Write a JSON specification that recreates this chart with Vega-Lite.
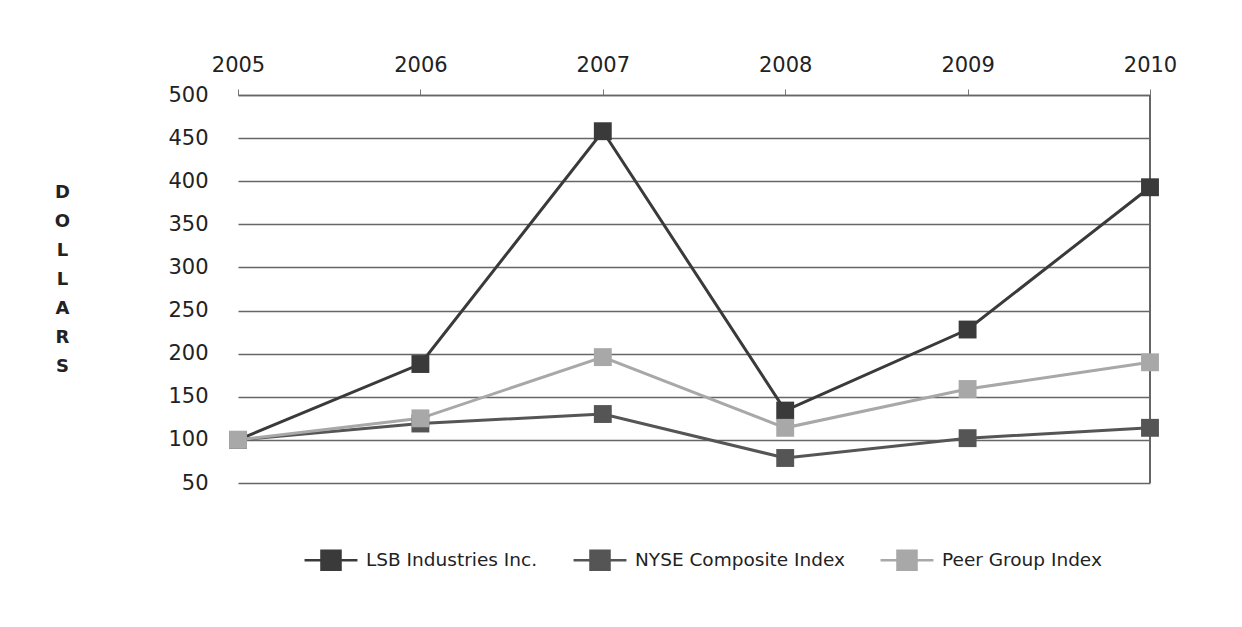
{
  "$schema": "https://vega.github.io/schema/vega-lite/v6.json",
  "width": 912,
  "height": 388,
  "autosize": "none",
  "padding": {"left": 238, "top": 95, "right": 92, "bottom": 144},
  "background": "white",
  "data": {
    "values": [
      {"year": 2005, "series": "LSB Industries Inc.", "value": 100},
      {"year": 2006, "series": "LSB Industries Inc.", "value": 188},
      {"year": 2007, "series": "LSB Industries Inc.", "value": 458},
      {"year": 2008, "series": "LSB Industries Inc.", "value": 134},
      {"year": 2009, "series": "LSB Industries Inc.", "value": 228},
      {"year": 2010, "series": "LSB Industries Inc.", "value": 393},
      {"year": 2005, "series": "NYSE Composite Index", "value": 100},
      {"year": 2006, "series": "NYSE Composite Index", "value": 119},
      {"year": 2007, "series": "NYSE Composite Index", "value": 130},
      {"year": 2008, "series": "NYSE Composite Index", "value": 79},
      {"year": 2009, "series": "NYSE Composite Index", "value": 102},
      {"year": 2010, "series": "NYSE Composite Index", "value": 114},
      {"year": 2005, "series": "Peer Group Index", "value": 100},
      {"year": 2006, "series": "Peer Group Index", "value": 125},
      {"year": 2007, "series": "Peer Group Index", "value": 196},
      {"year": 2008, "series": "Peer Group Index", "value": 114},
      {"year": 2009, "series": "Peer Group Index", "value": 159},
      {"year": 2010, "series": "Peer Group Index", "value": 190}
    ]
  },
  "layer": [
    {
      "mark": {"type": "rule", "color": "#666666", "strokeWidth": 1.5},
      "encoding": {"x": {"datum": 2010, "type": "quantitative"}}
    },
    {
      "mark": {
        "type": "line",
        "strokeWidth": 3,
        "point": {"shape": "square", "size": 320, "filled": true, "opacity": 1}
      },
      "encoding": {
        "x": {
          "field": "year",
          "type": "quantitative",
          "scale": {"domain": [2005, 2010], "nice": false, "zero": false},
          "axis": {
            "orient": "top",
            "title": null,
            "format": "d",
            "values": [2005, 2006, 2007, 2008, 2009, 2010],
            "grid": false,
            "domain": true,
            "domainColor": "#666666",
            "domainWidth": 1.5,
            "ticks": true,
            "tickSize": 6,
            "tickColor": "#777777",
            "labelFlush": false,
            "labelPadding": 14,
            "labelFont": "DejaVu Sans",
            "labelFontSize": 21,
            "labelColor": "#222222"
          }
        },
        "y": {
          "field": "value",
          "type": "quantitative",
          "scale": {"domain": [50, 500], "nice": false, "zero": false},
          "axis": {
            "values": [50, 100, 150, 200, 250, 300, 350, 400, 450, 500],
            "title": ["D", "O", "L", "L", "A", "R", "S"],
            "titleAngle": 0,
            "titleAlign": "center",
            "titleBaseline": "top",
            "titleX": -176,
            "titleY": 88,
            "titleLineHeight": 29,
            "titleFont": "DejaVu Sans",
            "titleFontSize": 18,
            "titleFontWeight": "bold",
            "titleColor": "#222222",
            "domain": false,
            "ticks": false,
            "grid": true,
            "gridColor": "#666666",
            "gridWidth": 1.5,
            "labelPadding": 30,
            "labelFont": "DejaVu Sans",
            "labelFontSize": 21,
            "labelColor": "#222222"
          }
        },
        "color": {
          "field": "series",
          "type": "nominal",
          "scale": {
            "domain": ["LSB Industries Inc.", "NYSE Composite Index", "Peer Group Index"],
            "range": ["#3a3a3a", "#555555", "#a8a8a8"]
          },
          "legend": {
            "orient": "none",
            "direction": "horizontal",
            "legendX": 65,
            "legendY": 437,
            "title": null,
            "symbolType": "M-1,0H1M-0.36,-0.36H0.36V0.36H-0.36Z",
            "symbolSize": 2800,
            "symbolStrokeWidth": 2.5,
            "labelOffset": 7,
            "columnPadding": 30,
            "labelLimit": 400,
            "labelFont": "DejaVu Sans",
            "labelFontSize": 18.5,
            "labelColor": "#222222"
          }
        }
      }
    }
  ],
  "config": {"view": {"stroke": null}}
}
